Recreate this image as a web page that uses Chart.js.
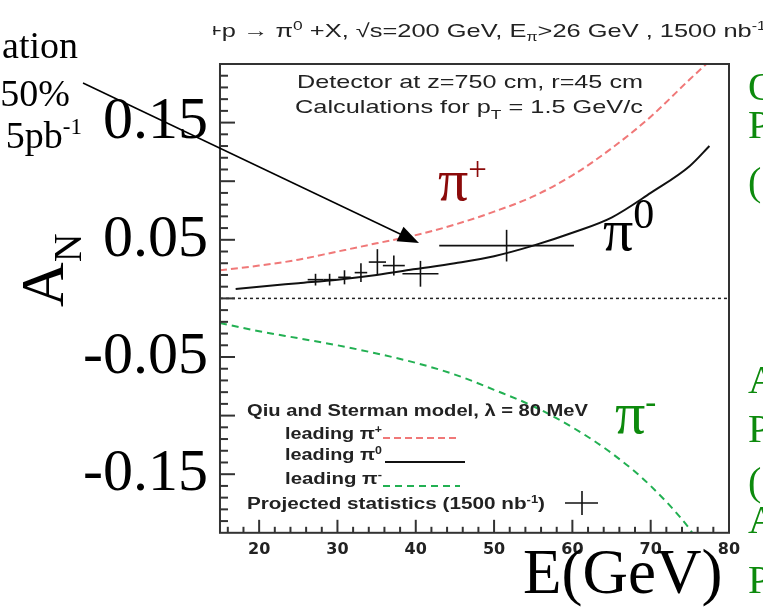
<!DOCTYPE html>
<html lang="en">
<head>
<meta charset="UTF-8" />
<title>A_N vs E(GeV)</title>
<script src="https://cdn.jsdelivr.net/npm/chart.js"></script>
<style>
  body { margin: 0; background: #fff; overflow: hidden; }
  #wrap { position: relative; width: 763px; height: 608px; overflow: hidden; }
  canvas { position: absolute; left: 0; top: 0; }
  .t { position: absolute; white-space: nowrap; line-height: 1; transform-origin: 0 50%; }
  .serif { font-family: "Liberation Serif", "Times New Roman", serif; color: #000; }
  .sans { font-family: "Liberation Sans", Arial, sans-serif; color: #222; }
  .green { color: #0d8a0d; }
  .s { position: relative; }
</style>
</head>
<body>
<div id="wrap">
  <canvas id="chart" width="763" height="608"></canvas>

  <!-- slide text around the figure -->
  <div class="t serif" style="right:685px; top:26px; font-size:38px;">ation</div>
  <div class="t serif" style="right:693px; top:74px; font-size:38px;">50%</div>
  <div class="t serif" style="right:681px; top:116px; font-size:38px;">5pb<span class="s" style="font-size:23px; top:-14px;">-1</span></div>

  <div class="t serif" style="left:11px; top:307px; font-size:62px; transform-origin:0 0; transform:rotate(-90deg);">A<span class="s" style="font-size:40px; top:18px;">N</span></div>
  <div class="t serif" style="left:523px; top:541px; font-size:63px;">E(GeV)</div>

  <div class="t serif" style="left:438px; top:150px; font-size:60px; color:#8b0a0a;">π<span class="s" style="font-size:33px; top:-20px;">+</span></div>
  <div class="t serif" style="left:603px; top:200px; font-size:60px;">π<span class="s" style="font-size:42px; top:-22px;">0</span></div>
  <div class="t serif green" style="left:615px; top:383px; font-size:60px;">π<span class="s" style="font-size:33px; top:-20px;">-</span></div>

  <div class="t serif green" style="left:748px; top:67px; font-size:40px;">Q</div>
  <div class="t serif green" style="left:748px; top:105px; font-size:40px;">P</div>
  <div class="t serif green" style="left:748px; top:162px; font-size:40px;">(</div>
  <div class="t serif green" style="left:748px; top:360px; font-size:40px;">A</div>
  <div class="t serif green" style="left:748px; top:409px; font-size:40px;">P</div>
  <div class="t serif green" style="left:748px; top:462px; font-size:40px;">(</div>
  <div class="t serif green" style="left:748px; top:500px; font-size:40px;">A</div>
  <div class="t serif green" style="left:748px; top:560px; font-size:40px;">P</div>

  <!-- figure text -->
  <div style="position:absolute; left:213px; top:21px; width:550px; height:28px; overflow:hidden;">
    <div class="t sans" data-w="559" style="left:-6px; top:0; font-size:19px;">+p → π<span class="s" style="font-size:13px; top:-7px;">0</span> +X, √s=200 GeV, E<span class="s" style="font-size:12px; top:4px;">π</span>&gt;26 GeV , 1500 nb<span class="s" style="font-size:12px; top:-7px;">-1</span></div>
  </div>
  <div class="t sans" data-w="346" style="left:297px; top:72px; font-size:19px;">Detector at z=750 cm, r=45 cm</div>
  <div class="t sans" data-w="348" style="left:295px; top:97px; font-size:19px;">Calculations for p<span class="s" style="font-size:13px; top:6px;">T</span> = 1.5 GeV/c</div>

  <div class="t sans" data-w="341" style="left:247px; top:403px; font-size:16px; font-weight:bold;">Qiu and Sterman model, λ = 80 MeV</div>
  <div class="t sans" data-w="97" style="left:285px; top:426px; font-size:16px; font-weight:bold;">leading π<span class="s" style="font-size:10px; top:-6px;">+</span></div>
  <div class="t sans" data-w="97" style="left:285px; top:447px; font-size:16px; font-weight:bold;">leading π<span class="s" style="font-size:10px; top:-6px;">0</span></div>
  <div class="t sans" data-w="97" style="left:285px; top:471px; font-size:16px; font-weight:bold;">leading π<span class="s" style="font-size:10px; top:-6px;">-</span></div>
  <div class="t sans" data-w="298" style="left:247px; top:496px; font-size:16px; font-weight:bold;">Projected statistics (1500 nb<span class="s" style="font-size:10px; top:-6px;">-1</span>)</div>
</div>

<script>
  // Qiu-Sterman model curves, E in GeV
  const plusE   = [15, 20, 25, 30, 35, 40, 45, 50, 55, 60, 65, 70, 75, 77.1];
  const plusA   = [0.024, 0.028, 0.033, 0.040, 0.047, 0.054, 0.063, 0.074, 0.087, 0.105, 0.128, 0.155, 0.187, 0.200];
  const zeroE   = [17, 20, 25, 30, 35, 40, 45, 50, 55, 60, 65, 70, 75, 77.5];
  const zeroA   = [0.008, 0.010, 0.013, 0.016, 0.020, 0.025, 0.030, 0.036, 0.045, 0.056, 0.069, 0.090, 0.113, 0.130];
  const minusE  = [15, 20, 25, 30, 35, 40, 45, 50, 55, 60, 65, 70, 75, 75.3];
  const minusA  = [-0.021, -0.028, -0.034, -0.040, -0.047, -0.055, -0.065, -0.078, -0.092, -0.110, -0.132, -0.160, -0.197, -0.200];

  // projected statistics (1500 nb^-1)
  const statE    = [27.2, 29.0, 30.9, 33.0, 35.1, 37.2, 40.6, 51.6];
  const statA    = [0.016, 0.016, 0.018, 0.022, 0.031, 0.028, 0.021, 0.045];
  const statEErr = [1.0, 0.8, 0.8, 0.8, 1.1, 1.4, 2.3, 8.6];
  const statAErr = [0.005, 0.005, 0.006, 0.008, 0.011, 0.0085, 0.011, 0.0135];

  const xTicks = [20, 30, 40, 50, 60, 70, 80];
  const yTicks = [-0.15, -0.05, 0.05, 0.15];
  const baseE = [15, 80];
  const baseA = [0, 0];

  const pts = (xs, ys) => xs.map((x, i) => ({ x, y: ys[i] }));

  function line(ctx, x1, y1, x2, y2) {
    ctx.beginPath(); ctx.moveTo(x1, y1); ctx.lineTo(x2, y2); ctx.stroke();
  }

  const extras = {
    id: 'extras',
    afterDatasetsDraw(chart) {
      const { ctx, chartArea: a, scales: { x, y } } = chart;
      ctx.save();

      // error bars
      ctx.strokeStyle = '#111';
      ctx.lineWidth = 1.6;
      statE.forEach((e, i) => {
        const px = x.getPixelForValue(e), py = y.getPixelForValue(statA[i]);
        line(ctx, x.getPixelForValue(e - statEErr[i]), py, x.getPixelForValue(e + statEErr[i]), py);
        line(ctx, px, y.getPixelForValue(statA[i] - statAErr[i]), px, y.getPixelForValue(statA[i] + statAErr[i]));
      });

      // frame and inner ticks
      ctx.strokeStyle = '#333';
      ctx.lineWidth = 2;
      ctx.strokeRect(a.left, a.top, a.right - a.left, a.bottom - a.top);
      for (let v = 16; v < 80; v += 2) {
        const px = x.getPixelForValue(v);
        line(ctx, px, a.bottom, px, a.bottom - (v % 10 === 0 ? 13 : 6));
      }
      for (let k = -19; k <= 19; k++) {
        const py = y.getPixelForValue(k / 100);
        line(ctx, a.left, py, a.left + (k % 5 === 0 ? 15 : 8), py);
      }

      // legend samples
      ctx.lineWidth = 2;
      ctx.strokeStyle = '#f07878'; ctx.setLineDash([7, 4]);
      line(ctx, 383, 438, 460, 438);
      ctx.strokeStyle = '#22b052'; ctx.setLineDash([7, 5]);
      line(ctx, 383, 486, 460, 486);
      ctx.setLineDash([]);
      ctx.strokeStyle = '#111';
      line(ctx, 385, 462, 465, 462);
      ctx.lineWidth = 1.6;
      line(ctx, 565, 503, 598, 503);
      line(ctx, 582, 491, 582, 515);

      // arrow from the slide note
      ctx.strokeStyle = '#000'; ctx.fillStyle = '#000'; ctx.lineWidth = 1.5;
      const x1 = 83, y1 = 83, x2 = 419, y2 = 243;
      const ang = Math.atan2(y2 - y1, x2 - x1);
      line(ctx, x1, y1, x2 - 18 * Math.cos(ang), y2 - 18 * Math.sin(ang));
      ctx.beginPath();
      ctx.moveTo(x2, y2);
      ctx.lineTo(x2 - 21 * Math.cos(ang) + 8 * Math.sin(ang), y2 - 21 * Math.sin(ang) - 8 * Math.cos(ang));
      ctx.lineTo(x2 - 21 * Math.cos(ang) - 8 * Math.sin(ang), y2 - 21 * Math.sin(ang) + 8 * Math.cos(ang));
      ctx.closePath();
      ctx.fill();
      ctx.restore();
    }
  };

  new Chart(document.getElementById('chart'), {
    type: 'scatter',
    data: {
      datasets: [
        { data: pts(baseE, baseA), showLine: true, borderColor: '#222', borderWidth: 1.5, borderDash: [3, 3], pointRadius: 0 },
        { data: pts(plusE, plusA), showLine: true, borderColor: '#f07878', borderWidth: 2, borderDash: [7, 4], pointRadius: 0, cubicInterpolationMode: 'monotone' },
        { data: pts(zeroE, zeroA), showLine: true, borderColor: '#111', borderWidth: 2, pointRadius: 0, cubicInterpolationMode: 'monotone' },
        { data: pts(minusE, minusA), showLine: true, borderColor: '#22b052', borderWidth: 2, borderDash: [7, 5], pointRadius: 0, cubicInterpolationMode: 'monotone' },
        { data: pts(statE, statA), pointRadius: 0 }
      ]
    },
    options: {
      responsive: false,
      devicePixelRatio: 1,
      animation: false,
      layout: { padding: { left: 71, top: 64, right: 34, bottom: 42 } },
      plugins: { legend: { display: false }, tooltip: { enabled: false } },
      scales: {
        x: {
          type: 'linear', min: 15, max: 80,
          afterBuildTicks: s => { s.ticks = xTicks.map(v => ({ value: v })); },
          grid: { display: false, drawTicks: false },
          border: { display: false },
          ticks: { padding: 7, maxRotation: 0, color: '#222', font: { family: 'DejaVu Sans', size: 16, weight: 'bold' } }
        },
        y: {
          type: 'linear', min: -0.2, max: 0.2,
          afterBuildTicks: s => { s.ticks = yTicks.map(v => ({ value: v })); },
          grid: { display: false, drawTicks: false },
          border: { display: false },
          ticks: { padding: 12, color: '#000', font: { family: 'Liberation Serif', size: 60 }, callback: v => v.toFixed(2) }
        }
      }
    },
    plugins: [extras]
  });

  document.fonts.ready.then(() => {
    document.querySelectorAll('[data-w]').forEach(el => {
      const w = el.getBoundingClientRect().width;
      el.style.transform = `scaleX(${el.dataset.w / w})`;
    });
  });
</script>
</body>
</html>
